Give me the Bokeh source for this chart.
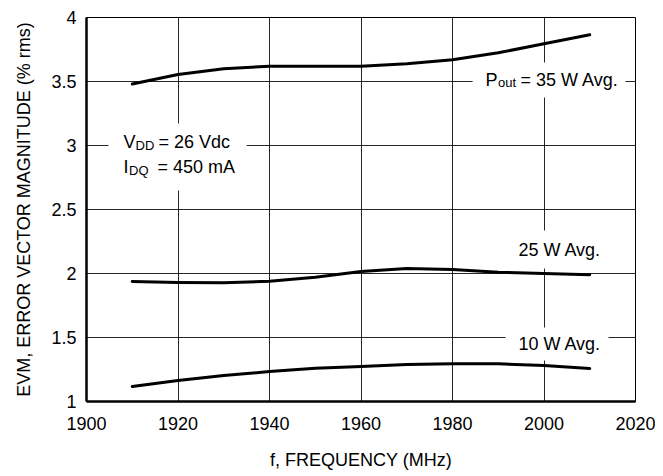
from bokeh.plotting import figure
from bokeh.models import Range1d, FixedTicker, CustomJSTickFormatter, Label, BoxAnnotation
from bokeh.embed import file_html
from bokeh.resources import INLINE

FONT = "Liberation Sans"

freq = [1910, 1920, 1930, 1940, 1950, 1960, 1970, 1980, 1990, 2000, 2010]
evm_35w = [3.48, 3.555, 3.60, 3.62, 3.62, 3.62, 3.638, 3.67, 3.724, 3.795, 3.865]
evm_25w = [1.937, 1.93, 1.927, 1.94, 1.97, 2.016, 2.04, 2.031, 2.01, 2.0, 1.99]
evm_10w = [1.117, 1.164, 1.203, 1.234, 1.26, 1.273, 1.289, 1.294, 1.294, 1.281, 1.258]

x_ticks = [1900, 1920, 1940, 1960, 1980, 2000, 2020]
y_ticks = [1, 1.5, 2, 2.5, 3, 3.5, 4]

p = figure(width=655, height=474, output_backend="svg", toolbar_location=None,
           x_range=Range1d(1900, 2020), y_range=Range1d(1, 4),
           min_border_left=86, min_border_right=20, min_border_top=17, min_border_bottom=73)

p.xaxis.ticker = FixedTicker(ticks=x_ticks)
p.yaxis.ticker = FixedTicker(ticks=y_ticks)
p.yaxis.formatter = CustomJSTickFormatter(code="return String(tick);")
p.xaxis.formatter = CustomJSTickFormatter(code="return String(tick);")

for ax in (p.xaxis[0], p.yaxis[0]):
    ax.major_tick_out = 0
    ax.major_tick_in = 0
    ax.minor_tick_out = 0
    ax.minor_tick_in = 0
    ax.axis_line_width = 2.5
    ax.axis_line_color = "black"
    ax.major_label_text_font = FONT
    ax.major_label_text_font_size = "18px"
    ax.major_label_text_color = "black"
    ax.axis_label_text_font = FONT
    ax.axis_label_text_font_size = "18px"
    ax.axis_label_text_font_style = "normal"
    ax.axis_label_text_color = "black"

p.xaxis.axis_label = "f, FREQUENCY (MHz)"
p.yaxis.axis_label = "EVM, ERROR VECTOR MAGNITUDE (% rms)"
p.yaxis.major_label_standoff = 10
p.xaxis.major_label_standoff = 15
p.yaxis.axis_label_standoff = 14
p.xaxis.axis_label_standoff = 17

p.grid.grid_line_color = "black"
p.grid.grid_line_width = 1
p.grid.grid_line_alpha = 0.85
p.outline_line_color = "black"
p.outline_line_width = 1
p.outline_line_alpha = 1

for ys in (evm_35w, evm_25w, evm_10w):
    p.line(freq, ys, line_color="black", line_width=3.0, line_join="round", line_cap="round")

# white backgrounds behind annotations
boxes = [
    (1984.4, 2017.8, 3.375, 3.648),
    (1904.8, 1935.0, 2.648, 3.172),
    (1992.7, 2013.4, 2.04, 2.336),
    (1991.6, 2014.1, 1.32, 1.578),
]
for l, r, b, t in boxes:
    p.add_layout(BoxAnnotation(left=l, right=r, bottom=b, top=t, fill_color="white",
                               fill_alpha=1, line_alpha=0, level="annotation"))

SHIFT = 8

def lab(x, y, text, xo=0, yo=0, size="18px"):
    p.add_layout(Label(x=x, y=y, text=text, x_offset=xo, y_offset=yo + SHIFT,
                       text_font=FONT, text_font_size=size, text_color="black",
                       text_baseline="alphabetic", text_align="left"))

# V_DD = 26 Vdc
lab(1908.1, 2.961, "V")
lab(1908.1, 2.961, "DD", xo=12, yo=-3, size="13px")
lab(1908.1, 2.961, "= 26 Vdc", xo=35)
# I_DQ = 450 mA
lab(1908.1, 2.766, "I")
lab(1908.1, 2.766, "DQ", xo=5.5, yo=-3, size="13px")
lab(1908.1, 2.766, "= 450 mA", xo=34)
# P_out = 35 W Avg.
lab(1987.2, 3.451, "P")
lab(1987.2, 3.451, "out", xo=12.5, yo=-3, size="13px")
lab(1987.2, 3.451, "= 35 W Avg.", xo=35)

lab(1994.4, 2.123, "25 W Avg.")
lab(1994.4, 1.385, "10 W Avg.")

open("out.html", "w").write(file_html(p, INLINE))
